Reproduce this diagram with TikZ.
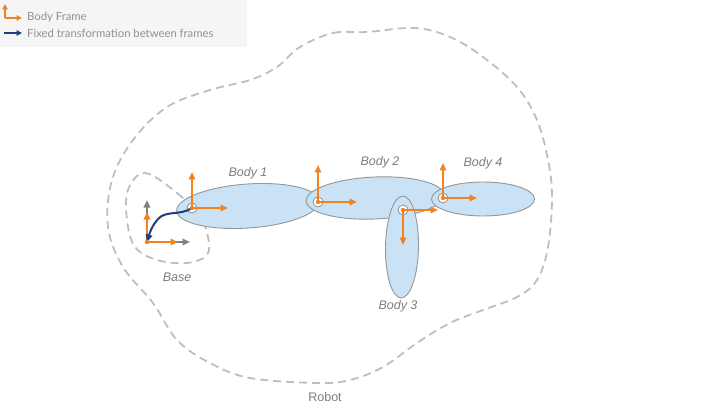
\documentclass[tikz,border=0pt]{standalone}
\usepackage{fontspec}
\setmainfont{Liberation Sans}
\newfontfamily\legendfont{Lato}
\usetikzlibrary{arrows.meta,shapes.geometric,positioning}

\definecolor{frameorange}{RGB}{242,130,32}
\definecolor{fixblue}{RGB}{30,62,128}
\definecolor{bodyfill}{RGB}{201,226,245}
\definecolor{bodyline}{RGB}{150,150,150}
\definecolor{dashgray}{RGB}{190,190,190}
\definecolor{labelgray}{RGB}{125,125,125}
\definecolor{legendbg}{RGB}{245,245,245}

\tikzset{
  bodyshape/.style={ellipse, draw=bodyline, fill=bodyfill, line width=0.9pt, inner sep=0pt},
  jointmark/.style={circle, draw=bodyline, fill=white, line width=0.9pt, minimum size=10pt, inner sep=0pt},
  outline/.style={dashgray, line width=1.8pt, dash pattern=on 8pt off 5pt},
  framearrow/.style={frameorange, line width=2pt, -{Triangle[length=7.5pt,width=6.5pt]}},
  worldarrow/.style={gray, line width=2pt, -{Triangle[length=7.5pt,width=6.5pt]}},
  fixarrow/.style={fixblue, line width=2pt, -{Triangle[length=7.5pt,width=6.5pt]}},
  bodylabel/.style={labelgray, font=\fontsize{12.5}{15}\selectfont\itshape, inner sep=0pt},
  legendtext/.style={labelgray!85, font=\legendfont\fontsize{11.3}{13}\selectfont, anchor=west, inner sep=0pt}
}

\begin{document}
\begin{tikzpicture}[x=1pt,y=-1pt]
  \useasboundingbox (0,0) rectangle (714,414);

  % legend
  \fill[legendbg] (0,0) rectangle (247,47);
  \coordinate (lgframe) at (5,18);
  \draw[framearrow, -{Triangle[length=5.5pt,width=5.5pt]}, line width=1.7pt] (lgframe) -- ++(0,-14);
  \draw[framearrow, -{Triangle[length=5.5pt,width=5.5pt]}, line width=1.7pt] (lgframe) -- ++(17,0);
  \coordinate (lgfix) at (4,33);
  \draw[fixarrow, -{Triangle[length=5.5pt,width=5.5pt]}, line width=1.7pt] (lgfix) -- ++(18,0);
  \node[legendtext] (lgframetext) at (27,17) {Body Frame};
  \node[legendtext] (lgfixtext) at (27,33) {Fixed transformation between frames};

  % robot outline
  \draw[outline] plot[smooth cycle, tension=0.6] coordinates {
    (300,47) (333,33) (367,32) (415,28) (450,37) (483,57) (517,87) (537,120)
    (548,160) (552,197) (548,247) (537,280) (517,297) (483,310) (450,323)
    (417,343) (383,367) (350,380) (317,383) (250,378) (210,363) (177,340)
    (153,303) (123,267) (108,227) (112,180) (133,140) (167,107) (210,90)
    (250,80) (277,67)};
  \node[labelgray, font=\fontsize{12.5}{15}\selectfont] (robotlabel) at (325,397) {Robot};

  % base outline
  \draw[outline] plot[smooth cycle, tension=0.6] coordinates {
    (145,173) (177,193) (200,217) (208,237) (207,255) (187,263) (157,260)
    (135,247) (127,220) (128,190)};
  \node[bodylabel] (baselabel) at (177,277) {Base};

  % bodies
  \node[bodyshape, minimum width=143pt, minimum height=44pt, rotate=4] (body1) at (248,206) {};
  \node[bodyshape, minimum width=138pt, minimum height=42pt, rotate=2.5] (body2) at (375,198) {};
  \node[bodyshape, minimum width=33pt, minimum height=102pt, rotate=-1] (body3) at (402,247) {};
  \node[bodyshape, minimum width=103pt, minimum height=34pt] (body4) at (483,199) {};
  \node[bodylabel] (body1label) at (248,173) {Body 1};
  \node[bodylabel] (body2label) at (380,162) {Body 2};
  \node[bodylabel] (body3label) at (398,306) {Body 3};
  \node[bodylabel] (body4label) at (483,163) {Body 4};

  % joints
  \node[jointmark] (joint1) at (192,208) {};
  \node[jointmark] (joint2) at (318,202) {};
  \node[jointmark] (joint3) at (403,210) {};
  \node[jointmark] (joint4) at (443,198) {};

  % base frame
  \coordinate (baseorigin) at (147,242);
  \draw[worldarrow] (baseorigin) -- ++(0,-42);
  \draw[worldarrow] (baseorigin) -- ++(43,0);
  \draw[framearrow] (baseorigin) -- ++(0,-30);
  \draw[framearrow] (baseorigin) -- ++(31,0);

  % fixed transformation
  \draw[fixarrow] (joint1.center) .. controls (180,216) and (166,210) .. (158,219)
    .. controls (152,226) and (150,232) .. (baseorigin);

  % body frames
  \draw[framearrow] (joint1.center) -- ++(0,-36);
  \draw[framearrow] (joint1.center) -- ++(36,0);
  \draw[framearrow] (joint2.center) -- ++(0,-37);
  \draw[framearrow] (joint2.center) -- ++(39,0);
  \draw[framearrow] (joint3.center) -- ++(35,0);
  \draw[framearrow] (joint3.center) -- ++(0,35);
  \draw[framearrow] (joint4.center) -- ++(0,-35);
  \draw[framearrow] (joint4.center) -- ++(34,0);
  \foreach \j in {joint1,joint2,joint3,joint4}
    \fill[frameorange] (\j.center) circle (2.2pt);
  \fill[frameorange] (baseorigin) circle (2.2pt);
\end{tikzpicture}
\end{document}
